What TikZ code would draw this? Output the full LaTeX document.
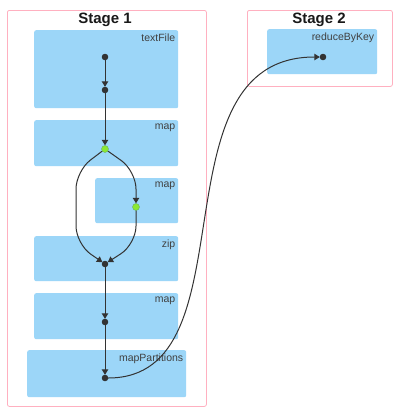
\documentclass[tikz,border=0pt]{standalone}
\usepackage{fontspec}
\setmainfont{Liberation Sans}
\usetikzlibrary{positioning}
\usetikzlibrary{arrows.meta}
\definecolor{opblue}{RGB}{156,214,248}
\definecolor{stagepink}{RGB}{255,176,192}
\definecolor{cachedgreen}{RGB}{140,232,50}
\tikzstyle{stage}=[draw=stagepink,fill=white,rounded corners=2pt,line width=0.8pt,inner sep=0pt]
\tikzstyle{stagetitle}=[font=\bfseries\fontsize{15}{15}\selectfont,text=black!90,anchor=center]
\tikzstyle{opbox}=[fill=opblue,rounded corners=2pt,inner sep=0pt,anchor=north west]
\tikzstyle{oplabel}=[font=\fontsize{10.5}{10.5}\selectfont,text=black!75,anchor=north east,inner sep=2pt]
\tikzstyle{rdd}=[circle,fill=black!80,draw=black!85,minimum size=6pt,inner sep=0pt]
\tikzstyle{cached}=[circle,fill=cachedgreen,draw=green!50!black!60,minimum size=7pt,inner sep=0pt]
\tikzstyle{edge} = [draw=black!80,line width=1pt,-{Triangle[width=6.5pt,length=5.5pt]}]

\begin{document}
\begin{tikzpicture}[x=1pt,y=-1pt]
    \useasboundingbox (0,0) rectangle (393,407);
    % the two stages
    \node[stage,minimum width=199pt,minimum height=396pt,anchor=north west] (stage1) at (7,10) {};
    \node[stage,minimum width=145pt,minimum height=76pt,anchor=north west] (stage2) at (247,10) {};
    \node[stagetitle] at (105,20) {Stage 1};
    \node[stagetitle] at (319,20) {Stage 2};

    % First we draw the operator boxes
    \foreach \pos/\name/\w/\h/\label in {{(34,30)/textFile/144/78/textFile}, {(34,120)/mapA/144/46/map},
        {(95,178)/mapB/83/45/map}, {(34,236)/zip/144/45/zip}, {(34,293)/mapC/144/46/map},
        {(27,350)/mapPart/159/47/mapPartitions}, {(267,29)/reduce/110/45/reduceByKey}}
    {
        \node[opbox,minimum width=\w pt,minimum height=\h pt] (\name) at \pos {};
        \node[oplabel] at ([xshift=-1pt,yshift=-2pt]\name.north east) {\label};
    }

    % Then the RDD dots
    \foreach \pos/\name in {{(105,57)/d1}, {(105,90)/d2}, {(105,264)/d4}, {(105,322)/d5}, {(105,378)/d6}, {(323,57)/d7}}
        \node[rdd] (\name) at \pos {};
    \node[cached] (c1) at (105,149) {};
    \node[cached] (c2) at (136,207) {};

    % Connect the dots
    \foreach \source/\dest in {d1/d2, d2/c1, d4/d5, d5/d6}
        \draw[edge] (\source) -- (\dest);
    \draw[edge,rounded corners=18pt] (c1) -- (76,171) -- (76,244) -- (d4);
    \draw[edge,rounded corners=18pt] (c1) -- (136,171) -- (c2);
    \draw[edge,rounded corners=18pt] (c2) -- (136,244) -- (d4);
    \draw[edge] (d6) .. controls (255,378) and (150,57) .. (d7);
\end{tikzpicture}
\end{document}
